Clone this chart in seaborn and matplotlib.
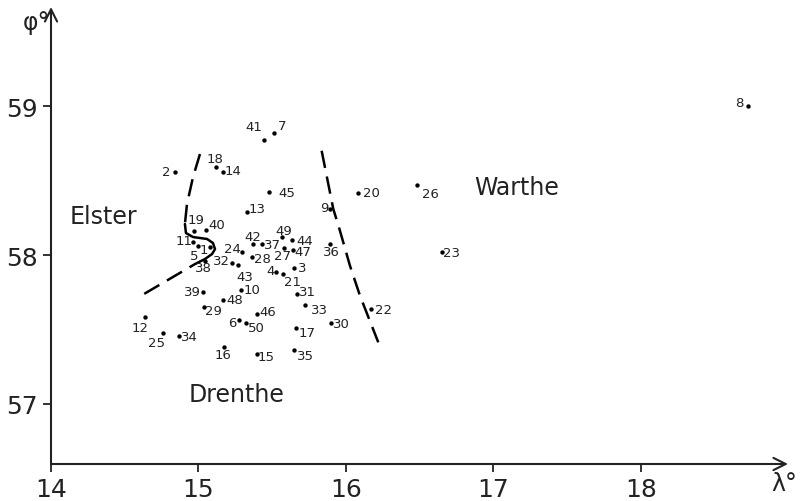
import numpy as np
import pandas as pd
import matplotlib
matplotlib.use("Agg")
import matplotlib.pyplot as plt
import seaborn as sns

# stations: number, longitude (lambda), latitude (phi)
station = list(range(1, 51))
lam = [15.078, 14.841, 15.647, 15.525, 14.997, 15.275, 15.512, 18.725, 15.892, 15.288,
       14.963, 14.637, 15.329, 15.166, 15.397, 15.173, 15.661, 15.119, 14.969, 16.081,
       15.573, 16.169, 16.651, 15.295, 14.759, 16.481, 15.580, 15.363, 15.037, 15.898,
       15.668, 15.227, 15.722, 14.868, 15.647, 15.892, 15.431, 15.044, 15.031, 15.051,
       15.444, 15.369, 15.268, 15.634, 15.478, 15.397, 15.641, 15.166, 15.566, 15.322]
phi = [58.054, 58.559, 57.912, 57.886, 58.061, 57.562, 58.822, 59.003, 58.310, 57.764,
       58.088, 57.582, 58.290, 58.559, 57.333, 57.380, 57.508, 58.593, 58.162, 58.418,
       57.872, 57.636, 58.020, 58.020, 57.475, 58.471, 58.047, 57.987, 57.650, 57.542,
       57.737, 57.946, 57.663, 57.455, 57.360, 58.074, 58.074, 57.960, 57.751, 58.168,
       58.774, 58.074, 57.933, 58.101, 58.424, 57.603, 58.034, 57.697, 58.121, 57.542]

# boundary lines
elster_lam = [15.010, 14.963, 14.922, 14.908, 14.915, 14.963, 15.058, 15.098, 15.112,
              15.092, 15.044, 14.976, 14.583]
elster_phi = [58.680, 58.525, 58.343, 58.209, 58.148, 58.121, 58.108, 58.081, 58.040,
              58.007, 57.973, 57.939, 57.710]
warthe_lam = [15.835, 15.914, 15.959, 16.027, 16.095, 16.219]
warthe_phi = [58.702, 58.310, 58.164, 57.928, 57.726, 57.412]

regions = ["Elster", "Warthe", "Drenthe"]
region_lam = [14.353, 17.159, 15.261]
region_phi = [58.263, 58.458, 57.064]

x_ticks = [14, 15, 16, 17, 18]
y_ticks = [57, 58, 59]

# label placement relative to the dot (pixels, y downwards)
label_off = {1: (-6, 2), 2: (-9, 0), 3: (8, -1), 4: (-5, -1), 5: (-4, 10), 6: (-7, 2),
             7: (8, -7), 8: (-9, -4), 9: (-6, -1), 10: (11, -1), 11: (-9, -1),
             12: (-5, 10), 13: (10, -3), 14: (10, -1), 15: (9, 2), 16: (-1, 7),
             17: (11, 4), 18: (-1, -8), 19: (2, -11), 20: (14, 0), 21: (10, 7),
             22: (13, 0), 23: (10, 0), 24: (-10, -4), 25: (-6, 9), 26: (14, 8),
             27: (-2, 7), 28: (10, 2), 29: (9, 3), 30: (10, 0), 31: (10, -3),
             32: (-10, -3), 33: (15, 4), 34: (10, 1), 35: (12, 5), 36: (1, 7),
             37: (10, 0), 38: (-2, 7), 39: (-11, -1), 40: (11, -6), 41: (-10, -14),
             42: (0, -8), 43: (7, 12), 44: (13, 0), 45: (18, 0), 46: (11, -2),
             47: (10, 2), 48: (12, -1), 49: (2, -7), 50: (10, 4)}

df = pd.DataFrame({"station": station, "lam": lam, "phi": phi})

sns.set_style("white")
plt.rcParams["font.family"] = ["DejaVu Sans"]

fig = plt.figure(figsize=(8, 5.02), dpi=100)
ax = fig.add_axes([0.06375, 0.0737, 0.92125, 0.9104])

sns.scatterplot(data=df, x="lam", y="phi", color="black", s=10, linewidth=0,
                legend=False, ax=ax)

for _, r in df.iterrows():
    dx, dy = label_off[int(r.station)]
    ax.annotate(str(int(r.station)), (r.lam, r.phi), xytext=(dx * 0.72, -dy * 0.72),
                textcoords="offset points", ha="center", va="center",
                fontsize=9.5, color="#222222")

# Elster boundary: dashed, solid loop, dashed
dash = dict(color="black", lw=1.8, dashes=(7, 3.5))
ax.plot(elster_lam[:4], elster_phi[:4], **dash)
ax.plot(elster_lam[3:11], elster_phi[3:11], color="black", lw=1.8)
ax.plot(elster_lam[10:], elster_phi[10:], **dash)
ax.plot(warthe_lam, warthe_phi, **dash)

for name, x, y in zip(regions, region_lam, region_phi):
    ax.text(x, y, name, fontsize=17, ha="center", va="center", color="#222222")

ax.set_xlim(14, 18.997)
ax.set_ylim(56.593, 59.67)
ax.set_xticks(x_ticks)
ax.set_yticks(y_ticks)
ax.tick_params(axis="both", labelsize=18, length=6, width=1.3, colors="#222222",
               direction="out", bottom=True, left=True)
ax.set_xlabel("")
ax.set_ylabel("")
for s in ["top", "right", "bottom", "left"]:
    ax.spines[s].set_visible(False)

# axis lines with open arrowheads
arrow = dict(arrowstyle="->", lw=1.5, color="#222222", mutation_scale=22,
             shrinkA=0, shrinkB=0)
ax.annotate("", xy=(1, 0), xytext=(0, 0), xycoords="axes fraction", arrowprops=arrow)
ax.annotate("", xy=(0, 1), xytext=(0, 0), xycoords="axes fraction", arrowprops=arrow)

fig.text(0.046, 0.955, "φ°", fontsize=17, ha="center", va="center", color="#222222")
fig.text(0.997, 0.035, "λ°", fontsize=17, ha="right", va="center", color="#222222")

fig.savefig("out.png", dpi=100)
